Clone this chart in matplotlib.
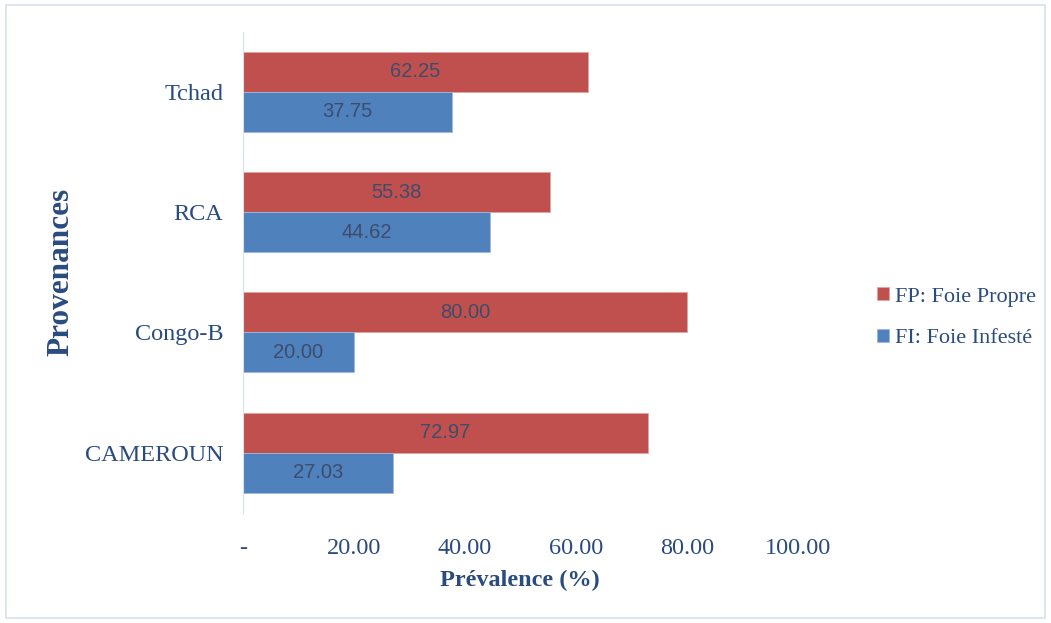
import matplotlib.pyplot as plt
from matplotlib.patches import Rectangle
from matplotlib.ticker import FuncFormatter
import numpy as np

provenances = ['CAMEROUN', 'Congo-B', 'RCA', 'Tchad']
fp_propre = [72.97, 80.00, 55.38, 62.25]
fi_infeste = [27.03, 20.00, 44.62, 37.75]
xticks = [0, 20, 40, 60, 80, 100]

navy = '#2a4b7e'
serif = ['Liberation Serif', 'DejaVu Serif']

fig = plt.figure(figsize=(10.51, 6.23), dpi=100)
ax = fig.add_axes([0.231, 0.177, 0.528, 0.772])

y = np.arange(len(provenances))
h = 0.332
red = ax.barh(y + h / 2, fp_propre, height=h, color='#c0504d',
              edgecolor='#e3a3a1', linewidth=0.6, label='FP: Foie Propre')
blue = ax.barh(y - h / 2, fi_infeste, height=h, color='#4f81bd',
               edgecolor='#9cb8dc', linewidth=0.6, label='FI: Foie Infesté')

for bars in (red, blue):
    for b in bars:
        w = b.get_width()
        ax.text(w / 2, b.get_y() + b.get_height() / 2, f'{w:.2f}',
                ha='center', va='center', fontsize=14.5, color='#3d4c6d',
                family=['Liberation Sans', 'DejaVu Sans'])

ax.set_xlim(0, 100)
ax.set_ylim(-0.5, len(provenances) - 0.5)
ax.set_xticks(xticks)
ax.xaxis.set_major_formatter(FuncFormatter(lambda v, p: '-' if v == 0 else f'{v:.2f}'))
ax.set_yticks(y)
ax.set_yticklabels(provenances)
ax.tick_params(length=0, labelsize=17.5, labelcolor=navy)
for lab in ax.get_xticklabels() + ax.get_yticklabels():
    lab.set_family(serif)
ax.tick_params(axis='x', pad=18)
ax.tick_params(axis='y', pad=14)

for s in ['top', 'right', 'bottom']:
    ax.spines[s].set_visible(False)
ax.spines['left'].set_color('#d6e0ee')

ax.set_xlabel('Prévalence (%)', fontsize=17.5, fontweight='bold', color=navy,
              family=serif, labelpad=8)
ax.set_ylabel('Provenances', fontsize=22.5, fontweight='bold', color=navy,
              family=serif)
ax.yaxis.set_label_coords(-0.302, 0.5)

handles = [red, blue]
fig.legend(handles, [r.get_label() for r in handles], loc='center left',
           bbox_to_anchor=(0.815, 0.49), frameon=False, handlelength=0.55,
           handleheight=0.55, handletextpad=0.3, labelspacing=1.0,
           prop={'family': serif, 'size': 16}, labelcolor=navy)

fig.patches.append(Rectangle((0.006, 0.008), 0.988, 0.984, transform=fig.transFigure,
                             fill=False, edgecolor='#d6e0ee', linewidth=1.2))

fig.savefig('out.png', dpi=100)
